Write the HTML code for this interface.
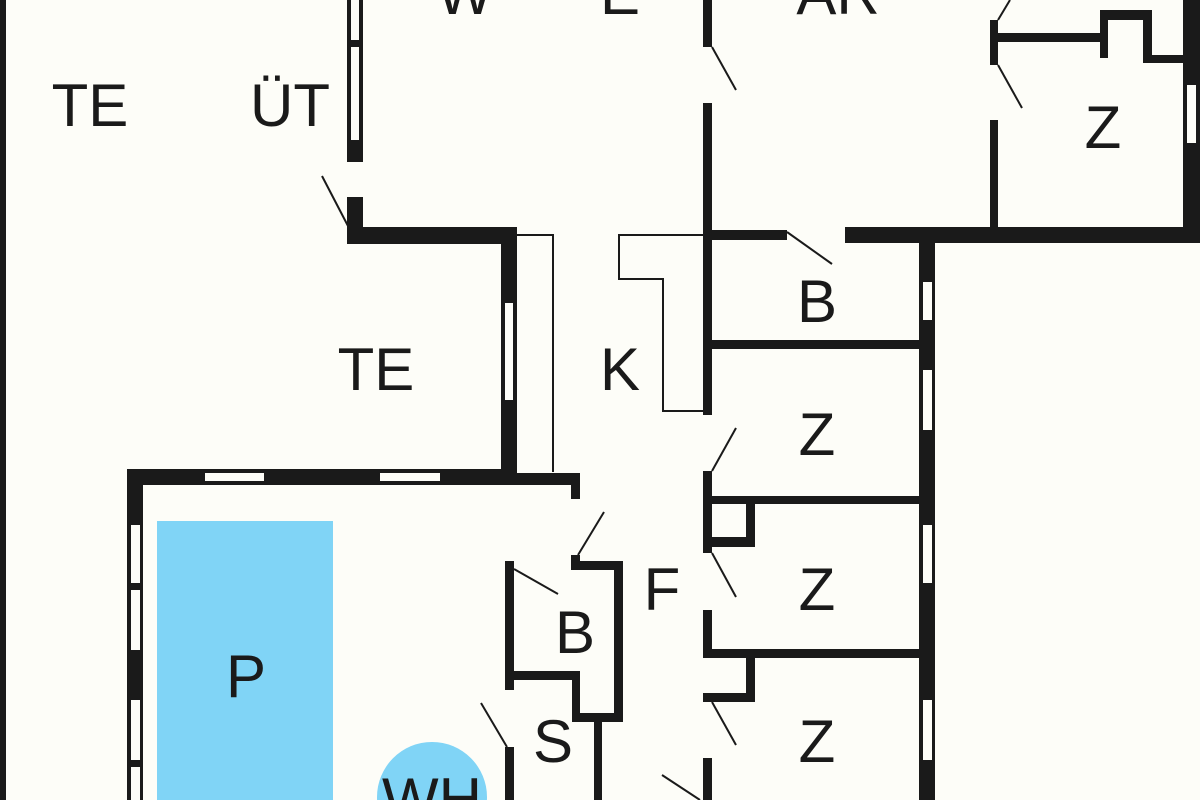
<!DOCTYPE html>
<html><head><style>
html,body{margin:0;padding:0;background:#fdfdf8;width:1200px;height:800px;overflow:hidden;}
svg{display:block;}
text{font-family:"Liberation Sans",sans-serif;font-size:60px;fill:#1a1a1a;text-anchor:middle;}
</style></head><body>
<svg width="1200" height="800" viewBox="0 0 1200 800" xmlns="http://www.w3.org/2000/svg">
<rect width="1200" height="800" fill="#fdfdf8"/>
<g fill="#1a1a1a">
<rect x="0" y="0" width="6" height="800"/>
<rect x="347" y="0" width="16" height="162"/>
<rect x="347" y="197" width="16" height="47"/>
<rect x="347" y="227" width="170" height="17"/>
<rect x="501" y="227" width="16" height="258"/>
<rect x="127" y="469" width="390" height="16"/>
<rect x="517" y="473" width="63" height="12"/>
<rect x="571" y="473" width="9" height="26"/>
<rect x="127" y="469" width="16" height="331"/>
<rect x="571" y="555" width="9" height="15"/>
<rect x="571" y="561" width="52" height="9"/>
<rect x="614" y="561" width="9" height="161"/>
<rect x="572" y="713" width="51" height="9"/>
<rect x="572" y="672" width="8" height="44"/>
<rect x="505" y="671" width="75" height="9"/>
<rect x="505" y="561" width="9" height="129"/>
<rect x="505" y="747" width="9" height="53"/>
<rect x="594" y="713" width="8" height="87"/>
<rect x="703" y="0" width="9" height="47"/>
<rect x="703" y="103" width="9" height="312"/>
<rect x="703" y="471" width="9" height="82"/>
<rect x="703" y="610" width="9" height="48"/>
<rect x="703" y="758" width="9" height="42"/>
<rect x="712" y="230" width="75" height="10"/>
<rect x="845" y="227" width="355" height="16"/>
<rect x="919" y="227" width="16" height="573"/>
<rect x="712" y="340" width="207" height="9"/>
<rect x="712" y="496" width="207" height="8"/>
<rect x="746" y="503" width="9" height="44"/>
<rect x="712" y="537" width="43" height="10"/>
<rect x="712" y="649" width="207" height="9"/>
<rect x="746" y="657" width="9" height="45"/>
<rect x="703" y="693" width="52" height="9"/>
<rect x="990" y="20" width="8" height="45"/>
<rect x="990" y="120" width="8" height="107"/>
<rect x="998" y="33" width="102" height="9"/>
<rect x="1100" y="10" width="8" height="48"/>
<rect x="1100" y="10" width="52" height="10"/>
<rect x="1143" y="10" width="9" height="53"/>
<rect x="1143" y="55" width="42" height="8"/>
<rect x="1183" y="0" width="17" height="243"/>
</g>
<g fill="#fdfdf8">
<rect x="351" y="0" width="8" height="40"/>
<rect x="351" y="47" width="8" height="93"/>
<rect x="505" y="303" width="8" height="97"/>
<rect x="205" y="473" width="59" height="8"/>
<rect x="380" y="473" width="60" height="8"/>
<rect x="131" y="525" width="9" height="58"/>
<rect x="131" y="590" width="9" height="60"/>
<rect x="131" y="700" width="9" height="60"/>
<rect x="131" y="767" width="9" height="33"/>
<rect x="923" y="282" width="9" height="38"/>
<rect x="923" y="370" width="9" height="60"/>
<rect x="923" y="525" width="9" height="58"/>
<rect x="923" y="700" width="9" height="60"/>
<rect x="1187" y="85" width="9" height="58"/>
</g>
<g fill="none" stroke="#1a1a1a" stroke-width="2">
<polyline points="703,235 619,235 619,279 663,279 663,411 703,411"/>
<polyline points="517,235 553,235 553,472"/>
<line x1="322" y1="176" x2="348" y2="226"/>
<line x1="712" y1="47" x2="736" y2="90"/>
<line x1="787" y1="232" x2="832" y2="264"/>
<line x1="998" y1="20" x2="1010" y2="0"/>
<line x1="998" y1="65" x2="1022" y2="108"/>
<line x1="578" y1="555" x2="604" y2="512"/>
<line x1="514" y1="569" x2="558" y2="594"/>
<line x1="481" y1="703" x2="507" y2="747"/>
<line x1="712" y1="471" x2="736" y2="428"/>
<line x1="712" y1="553" x2="736" y2="597"/>
<line x1="712" y1="702" x2="736" y2="745"/>
<line x1="662" y1="775" x2="700" y2="800"/>
</g>
<rect x="157" y="521" width="176" height="279" fill="#80d4f6"/>
<circle cx="432" cy="797" r="55" fill="#80d4f6"/>
<text x="90" y="126">TE</text>
<text x="290" y="126">ÜT</text>
<text x="465" y="14">W</text>
<text x="620" y="14">E</text>
<text x="838" y="14">AR</text>
<text x="1103" y="148">Z</text>
<text x="817" y="322">B</text>
<text x="620" y="390">K</text>
<text x="376" y="390">TE</text>
<text x="817" y="455">Z</text>
<text x="817" y="610">Z</text>
<text x="817" y="762">Z</text>
<text x="662" y="610">F</text>
<text x="575" y="653">B</text>
<text x="553" y="762">S</text>
<text x="246" y="697">P</text>
<text x="432" y="820">WH</text>
</svg>
</body></html>
